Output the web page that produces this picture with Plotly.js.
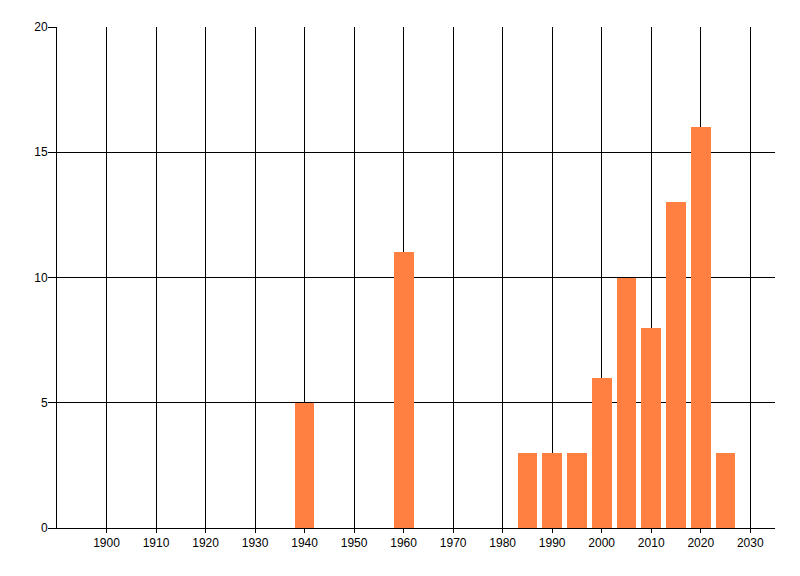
<!DOCTYPE html>
<html>
<head>
<meta charset="utf-8">
<script src="https://cdn.plot.ly/plotly-3.0.1.min.js"></script>
<style>html,body{margin:0;padding:0;background:#fff;}#chart{width:800px;height:576px;}</style>
</head>
<body>
<div id="chart"></div>
<script>
var years = [1940, 1960, 1985, 1990, 1995, 2000, 2005, 2010, 2015, 2020, 2025];
var counts = [5, 11, 3, 3, 3, 6, 10, 8, 13, 16, 3];
var xTicks = [1900, 1910, 1920, 1930, 1940, 1950, 1960, 1970, 1980, 1990, 2000, 2010, 2020, 2030];
var yTicks = [0, 5, 10, 15, 20];

var trace = {
  type: 'bar',
  x: years,
  y: counts,
  width: 4,
  marker: {color: '#ff8040', line: {width: 0}},
  hoverinfo: 'x+y'
};

var layout = {
  width: 800,
  height: 576,
  margin: {l: 57, r: 25, t: 27, b: 48},
  paper_bgcolor: '#ffffff',
  plot_bgcolor: '#ffffff',
  showlegend: false,
  font: {family: 'Liberation Sans, Arial, sans-serif', size: 12, color: '#000000'},
  xaxis: {
    range: [1890, 2035],
    tickmode: 'array',
    tickvals: xTicks,
    ticktext: xTicks.map(String),
    showgrid: true,
    gridcolor: '#000000',
    gridwidth: 1,
    zeroline: false,
    showline: true,
    linecolor: '#000000',
    linewidth: 1,
    ticks: 'outside',
    ticklen: 4,
    tickcolor: '#000000',
    tickfont: {size: 12, color: '#000000'}
  },
  yaxis: {
    range: [0, 20],
    tickmode: 'array',
    tickvals: yTicks,
    ticktext: yTicks.map(String),
    showgrid: true,
    gridcolor: '#000000',
    gridwidth: 1,
    zeroline: false,
    showline: true,
    linecolor: '#000000',
    linewidth: 1,
    ticks: 'outside',
    ticklen: 8,
    ticklabelstandoff: -2,
    tickcolor: '#000000',
    tickfont: {size: 12, color: '#000000'}
  },
  bargap: 0
};

Plotly.newPlot('chart', [trace], layout, {displayModeBar: false, staticPlot: true});
</script>
</body>
</html>
